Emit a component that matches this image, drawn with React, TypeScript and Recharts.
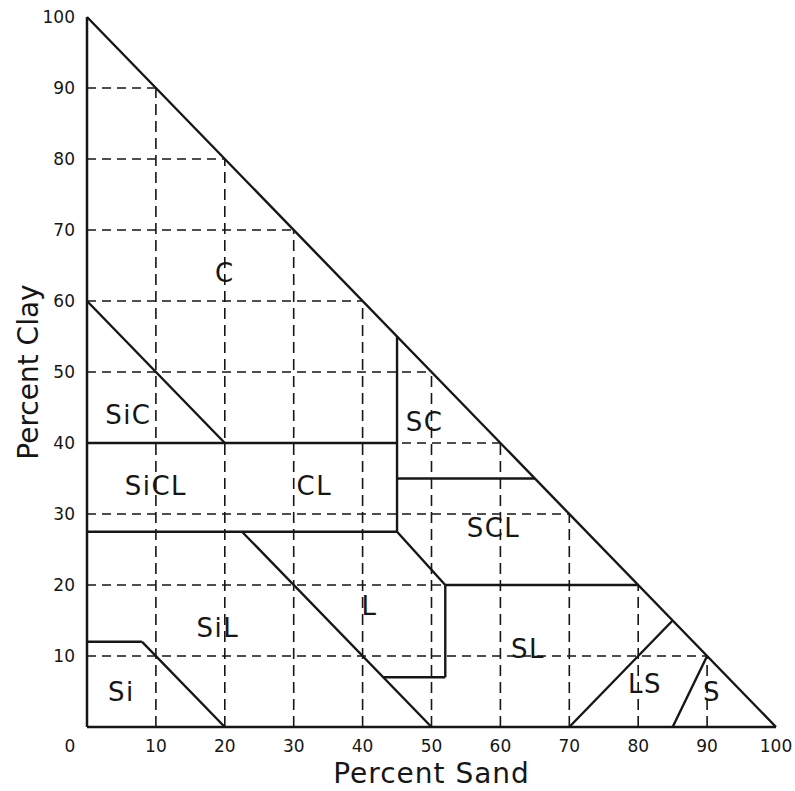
import { ComposedChart, XAxis, YAxis, ReferenceLine, Scatter, Label } from 'recharts';

// soil texture triangle, % sand vs % clay
const SAND_TICKS = [0, 10, 20, 30, 40, 50, 60, 70, 80, 90, 100];
const CLAY_TICKS = [10, 20, 30, 40, 50, 60, 70, 80, 90, 100];
const GRID_STEPS = [10, 20, 30, 40, 50, 60, 70, 80, 90];

// class boundaries: [sand1, clay1, sand2, clay2]
const BOUNDARIES: [number, number, number, number][] = [
  [0, 100, 100, 0],
  [0, 60, 20, 40],
  [0, 40, 45, 40],
  [45, 55, 45, 27.5],
  [45, 35, 65, 35],
  [0, 27.5, 45, 27.5],
  [45, 27.5, 52, 20],
  [52, 20, 80, 20],
  [52, 20, 52, 7],
  [43, 7, 52, 7],
  [22.5, 27.5, 50, 0],
  [0, 12, 8, 12],
  [8, 12, 20, 0],
  [70, 0, 85, 15],
  [85, 0, 90, 10],
];

const CLASS_NAMES = ['C', 'SiC', 'SiCL', 'CL', 'SC', 'SCL', 'L', 'SiL', 'Si', 'SL', 'LS', 'S'];
const CLASS_SAND = [20, 6, 10, 33, 49, 59, 41, 19, 5, 64, 81, 90.7];
const CLASS_CLAY = [64, 44, 34, 34, 43, 28, 17, 14, 5, 11, 6, 5];

const INK = '#161616';
const FONT = '"DejaVu Sans", sans-serif';

const classData = CLASS_NAMES.map((name, i) => ({ name, sand: CLASS_SAND[i], clay: CLASS_CLAY[i] }));

function SandTick({ x, y, payload }: any) {
  const shift = payload.value === 0 ? -17 : 0;
  return (
    <text x={x + shift} y={y + 25} textAnchor="middle" fontFamily={FONT} fontSize={17} fill={INK}>
      {payload.value}
    </text>
  );
}

function ClayTick({ x, y, payload }: any) {
  return (
    <text x={x - 12} y={y + 6} textAnchor="end" fontFamily={FONT} fontSize={17} fill={INK}>
      {payload.value}
    </text>
  );
}

function ClassLabel({ cx, cy, payload }: any) {
  return (
    <text
      x={cx}
      y={cy}
      textAnchor="middle"
      dominantBaseline="central"
      fontFamily={FONT}
      fontSize={26}
      letterSpacing={1.5}
      fill={INK}
    >
      {payload.name}
    </text>
  );
}

export default function App() {
  return (
    <div style={{ position: 'absolute', left: 0, top: 0, background: '#fff' }}>
      <ComposedChart width={795} height={791} data={classData} margin={{ top: 17, right: 19, left: 27, bottom: 34 }}>
        <XAxis
          type="number"
          dataKey="sand"
          domain={[0, 100]}
          ticks={SAND_TICKS}
          tick={<SandTick />}
          tickLine={false}
          tickSize={0}
          tickMargin={0}
          axisLine={{ stroke: INK, strokeWidth: 2.5 }}
          height={30}
        >
          <Label
            value="Percent Sand"
            position="insideBottom"
            offset={-26}
            fontFamily={FONT}
            fontSize={28}
            letterSpacing={1}
            fill={INK}
          />
        </XAxis>
        <YAxis
          type="number"
          dataKey="clay"
          domain={[0, 100]}
          ticks={CLAY_TICKS}
          tick={<ClayTick />}
          tickLine={false}
          tickSize={0}
          tickMargin={0}
          axisLine={{ stroke: INK, strokeWidth: 2.5 }}
          width={60}
        >
          <Label
            value="Percent Clay"
            angle={-90}
            position="insideLeft"
            offset={1}
            fontFamily={FONT}
            fontSize={28}
            fill={INK}
            style={{ textAnchor: 'middle' }}
          />
        </YAxis>

        {GRID_STEPS.map((c) => (
          <ReferenceLine
            key={`h${c}`}
            segment={[{ x: 0, y: c }, { x: 100 - c, y: c }]}
            stroke={INK}
            strokeWidth={1.6}
            strokeDasharray="9 6"
          />
        ))}
        {GRID_STEPS.map((s) => (
          <ReferenceLine
            key={`v${s}`}
            segment={[{ x: s, y: 0 }, { x: s, y: 100 - s }]}
            stroke={INK}
            strokeWidth={1.6}
            strokeDasharray="11 6"
          />
        ))}
        {BOUNDARIES.map(([x1, y1, x2, y2], i) => (
          <ReferenceLine
            key={`b${i}`}
            segment={[{ x: x1, y: y1 }, { x: x2, y: y2 }]}
            stroke={INK}
            strokeWidth={2.4}
          />
        ))}

        <Scatter data={classData} dataKey="clay" shape={<ClassLabel />} isAnimationActive={false} />
      </ComposedChart>
    </div>
  );
}
